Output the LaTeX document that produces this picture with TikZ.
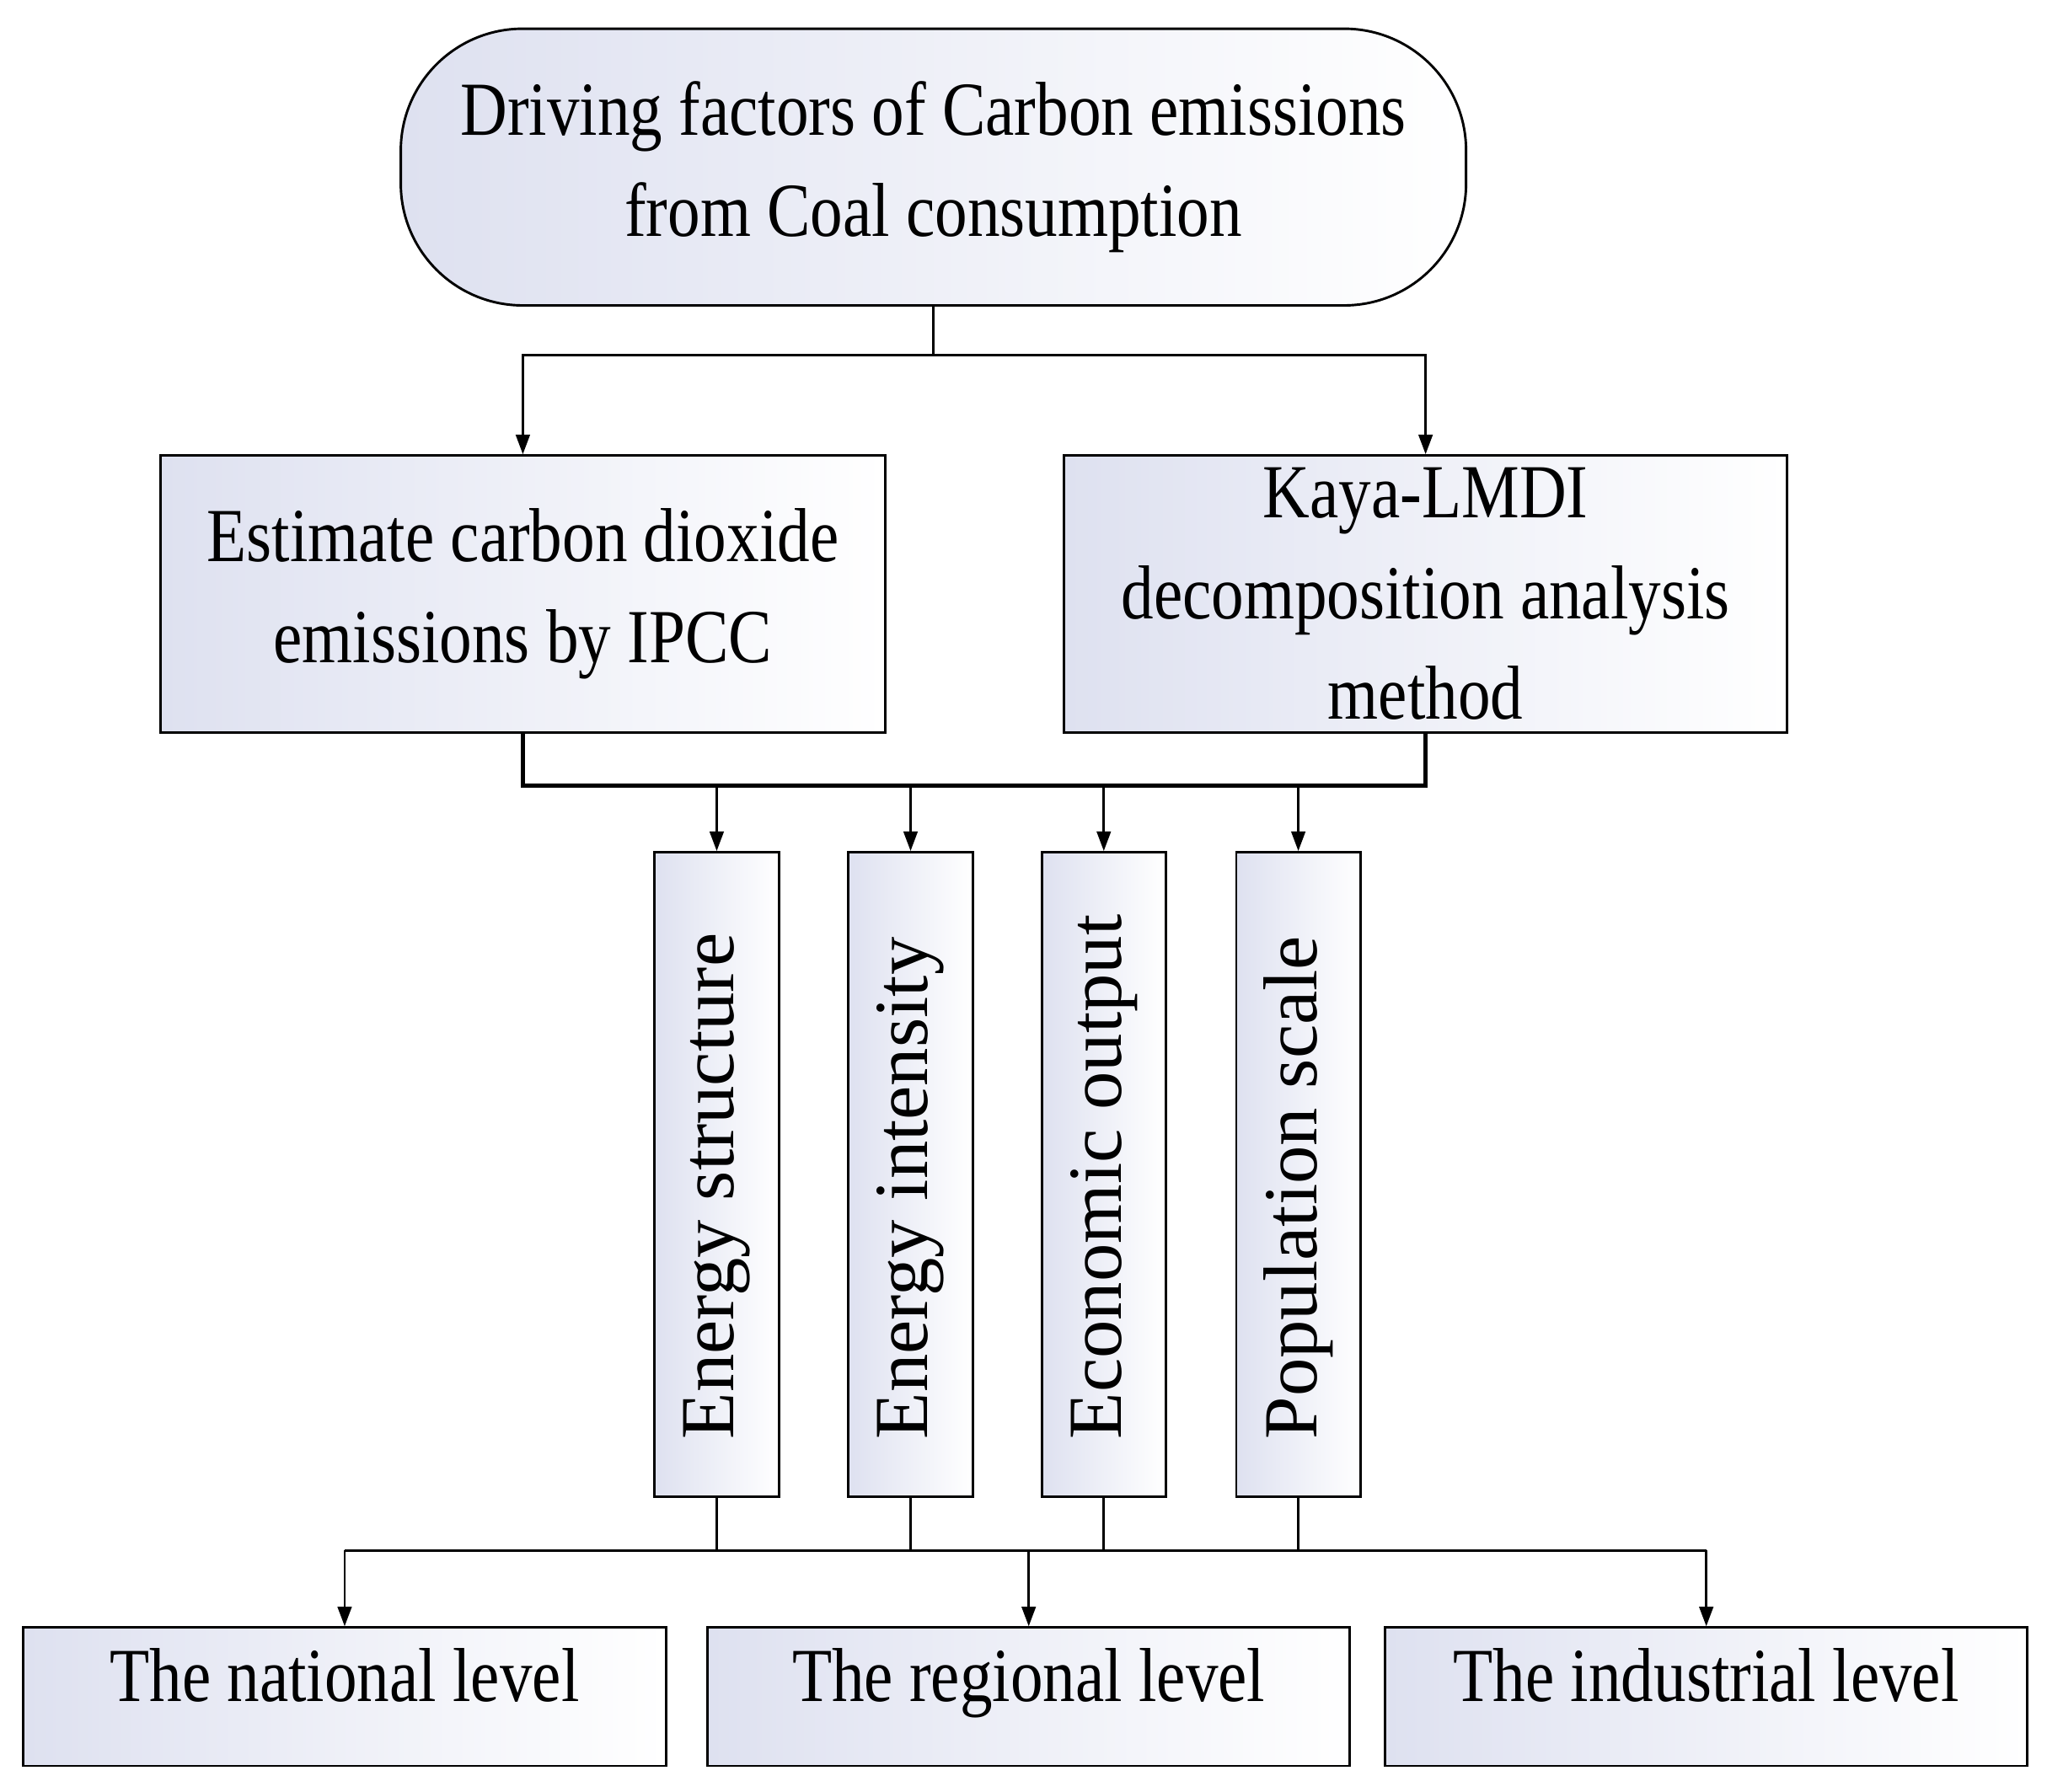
\documentclass[tikz,border=0pt]{standalone}
\usepackage{fontspec}
\setmainfont{Liberation Serif}[FakeStretch=0.85]
\newfontfamily\vfont{Liberation Serif}
\usetikzlibrary{arrows.meta}
\begin{document}
\begin{tikzpicture}[x=0.03cm,y=-0.03cm,
  box/.style={draw,line width=1.6pt,left color={rgb,255:red,222;green,225;blue,240},right color=white,inner sep=0pt,align=center,font=\fontsize{50}{66}\selectfont},
  txt/.style={font=\vfont\fontsize{50}{66}\selectfont,inner sep=0pt},
  ln/.style={line width=1.6pt},
  arr/.style={line width=1.6pt,-{Triangle[length=0.45cm,width=0.32cm]}}]
\useasboundingbox (0,0) rectangle (1568,1373);
\node[box,rounded corners=2.8cm,minimum width=816*0.03cm,minimum height=212*0.03cm] (top) at (715,128) {Driving factors of Carbon emissions\\from Coal consumption};
\node[box,minimum width=555*0.03cm,minimum height=212*0.03cm] (ipcc) at (400.5,455) {Estimate carbon dioxide\\emissions by IPCC};
\node[box,minimum width=554*0.03cm,minimum height=212*0.03cm] (kaya) at (1092,455) {Kaya-LMDI\\decomposition analysis\\method};
\foreach \n/\x/\t in {es/549/Energy structure,ei/697.5/Energy intensity,eo/845.5/Economic output,ps/994.5/Population scale}{
  \node[box,minimum width=95*0.03cm,minimum height=494*0.03cm] (\n) at (\x,900) {};
  \node[txt,rotate=90,anchor=west] (\n t) at ([yshift=1.35cm]\n.south) {\t};}
\foreach \n/\x/\t in {nat/264/The national level,reg/788/The regional level,ind/1307/The industrial level}
  \node[box,text height=0.66em,text depth=0pt,minimum width=492*0.03cm,minimum height=106*0.03cm] (\n) at (\x,1300) {\t};
\coordinate (j1) at (715,272);
\draw[ln] (top.south) -- (j1);
\draw[arr] (j1) -| (ipcc.north);
\draw[arr] (j1) -| (kaya.north);
\coordinate (j2) at (715,602);
\draw[ln,line width=2.4pt] (ipcc.south) |- (j2) -| (kaya.south);
\foreach \n in {es,ei,eo,ps} \draw[arr] (\n.north|-j2) -- (\n.north);
\coordinate (j3) at (715,1188);
\draw[ln,line width=2pt] (nat|-j3) -- (ind|-j3);
\foreach \n in {es,ei,eo,ps} \draw[ln] (\n.south) -- (\n.south|-j3);
\foreach \n in {nat,reg,ind} \draw[arr] (\n.north|-j3) -- (\n.north);
\end{tikzpicture}
\end{document}
